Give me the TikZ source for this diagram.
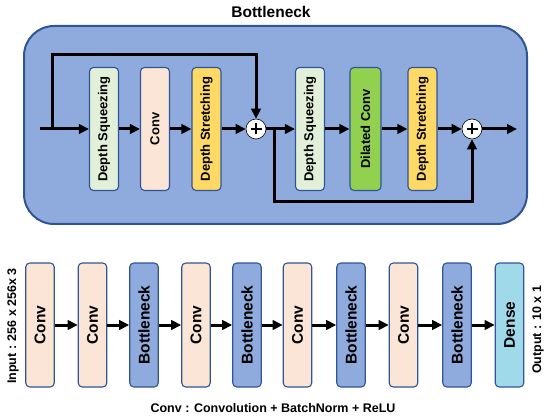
\documentclass[tikz,border=0pt]{standalone}
\usepackage{fontspec}
\setmainfont{Liberation Sans}
\usetikzlibrary{positioning, arrows.meta}
\definecolor{bnfill}{HTML}{8FAADC}
\definecolor{bnedge}{HTML}{2F5597}
\definecolor{convcol}{HTML}{FBE5D6}
\definecolor{sqzcol}{HTML}{E2F0D9}
\definecolor{strcol}{HTML}{FFD966}
\definecolor{dilcol}{HTML}{92D050}
\definecolor{densecol}{HTML}{A0DAEA}
\tikzset{
  layer/.style={draw=bnedge, line width=1.1pt, rounded corners=4pt, rotate=90,
                minimum width=123pt, minimum height=29pt, inner sep=1pt,
                font=\fontsize{13}{15}\selectfont\bfseries},
  stage/.style={layer, minimum width=124pt, minimum height=28.5pt,
                font=\fontsize{15.5}{17}\selectfont\bfseries},
  addop/.style={circle, draw=black, line width=0.6pt, fill=white, minimum size=20pt,
                inner sep=0pt,
                path picture={\draw[line width=2.4pt]
                  ([xshift=-5.5pt]path picture bounding box.center) -- ([xshift=5.5pt]path picture bounding box.center)
                  ([yshift=-5.5pt]path picture bounding box.center) -- ([yshift=5.5pt]path picture bounding box.center);}},
  flow/.style={-{Triangle[length=10pt, width=9.5pt]}, line width=3pt},
  note/.style={font=\fontsize{12.5}{14}\selectfont\bfseries},
}

\begin{document}
\begin{tikzpicture}[x=1pt, y=-1pt]
  \useasboundingbox (0,0) rectangle (550,420);

  % bottleneck block
  \node[draw=bnedge, line width=2pt, fill=bnfill, rounded corners=30pt,
        minimum width=503pt, minimum height=198pt] (bneck) at (275.5,125) {};
  \node[font=\fontsize{15.5}{17}\selectfont\bfseries] (title) at (271,12) {Bottleneck};

  \node[layer, fill=sqzcol] (sq1) at (104,129) {Depth Squeezing};
  \node[layer, fill=convcol] (cv1) at (155,129) {Conv};
  \node[layer, fill=strcol] (st1) at (206.5,129) {Depth Stretching};
  \node[addop] (add1) at (256,129) {};
  \node[layer, fill=sqzcol] (sq2) at (310,129) {Depth Squeezing};
  \node[layer, fill=dilcol, minimum height=31pt] (dc) at (365.5,129) {Dilated Conv};
  \node[layer, fill=strcol] (st2) at (422.5,129) {Depth Stretching};
  \node[addop] (add2) at (472,129) {};

  \coordinate (in) at (40,129);
  \coordinate (br1) at (52,129);
  \coordinate (sk1) at (52,55);
  \coordinate (br2) at (274,129);
  \coordinate (sk2) at (274,202);
  \coordinate (out) at (517,129);

  \draw[flow] (in) -- (sq1);
  \draw[flow] (sq1) -- (cv1);
  \draw[flow] (cv1) -- (st1);
  \draw[flow] (st1) -- (add1);
  \draw[flow] (br1) -- (sk1) -| (add1);
  \draw[flow] (add1) -- (sq2);
  \draw[flow] (sq2) -- (dc);
  \draw[flow] (dc) -- (st2);
  \draw[flow] (st2) -- (add2);
  \draw[flow] (br2) -- (sk2) -| (add2);
  \draw[flow] (add2) -- (out);

  % network
  \node[stage, fill=convcol] (n1) at (40,325) {Conv};
  \node[stage, fill=convcol] (n2) at (92.5,325) {Conv};
  \node[stage, fill=bnfill] (n3) at (144,325) {Bottleneck};
  \node[stage, fill=convcol] (n4) at (196,325) {Conv};
  \node[stage, fill=bnfill] (n5) at (247,325) {Bottleneck};
  \node[stage, fill=convcol] (n6) at (297.5,325) {Conv};
  \node[stage, fill=bnfill] (n7) at (351,325) {Bottleneck};
  \node[stage, fill=convcol] (n8) at (403.5,325) {Conv};
  \node[stage, fill=bnfill] (n9) at (457,325) {Bottleneck};
  \node[stage, fill=densecol] (n10) at (509.5,325) {Dense};

  \draw[flow] (n1) -- (n2);
  \draw[flow] (n2) -- (n3);
  \draw[flow] (n3) -- (n4);
  \draw[flow] (n4) -- (n5);
  \draw[flow] (n5) -- (n6);
  \draw[flow] (n6) -- (n7);
  \draw[flow] (n7) -- (n8);
  \draw[flow] (n8) -- (n9);
  \draw[flow] (n9) -- (n10);

  \node[note, rotate=90] (inlbl) at (13,326) {Input : 256 x 256x 3};
  \node[note, rotate=90] (outlbl) at (538,330) {Output : 10 x 1};
  \node[note] (legend) at (273,408) {Conv : Convolution + BatchNorm + ReLU};
\end{tikzpicture}
\end{document}
